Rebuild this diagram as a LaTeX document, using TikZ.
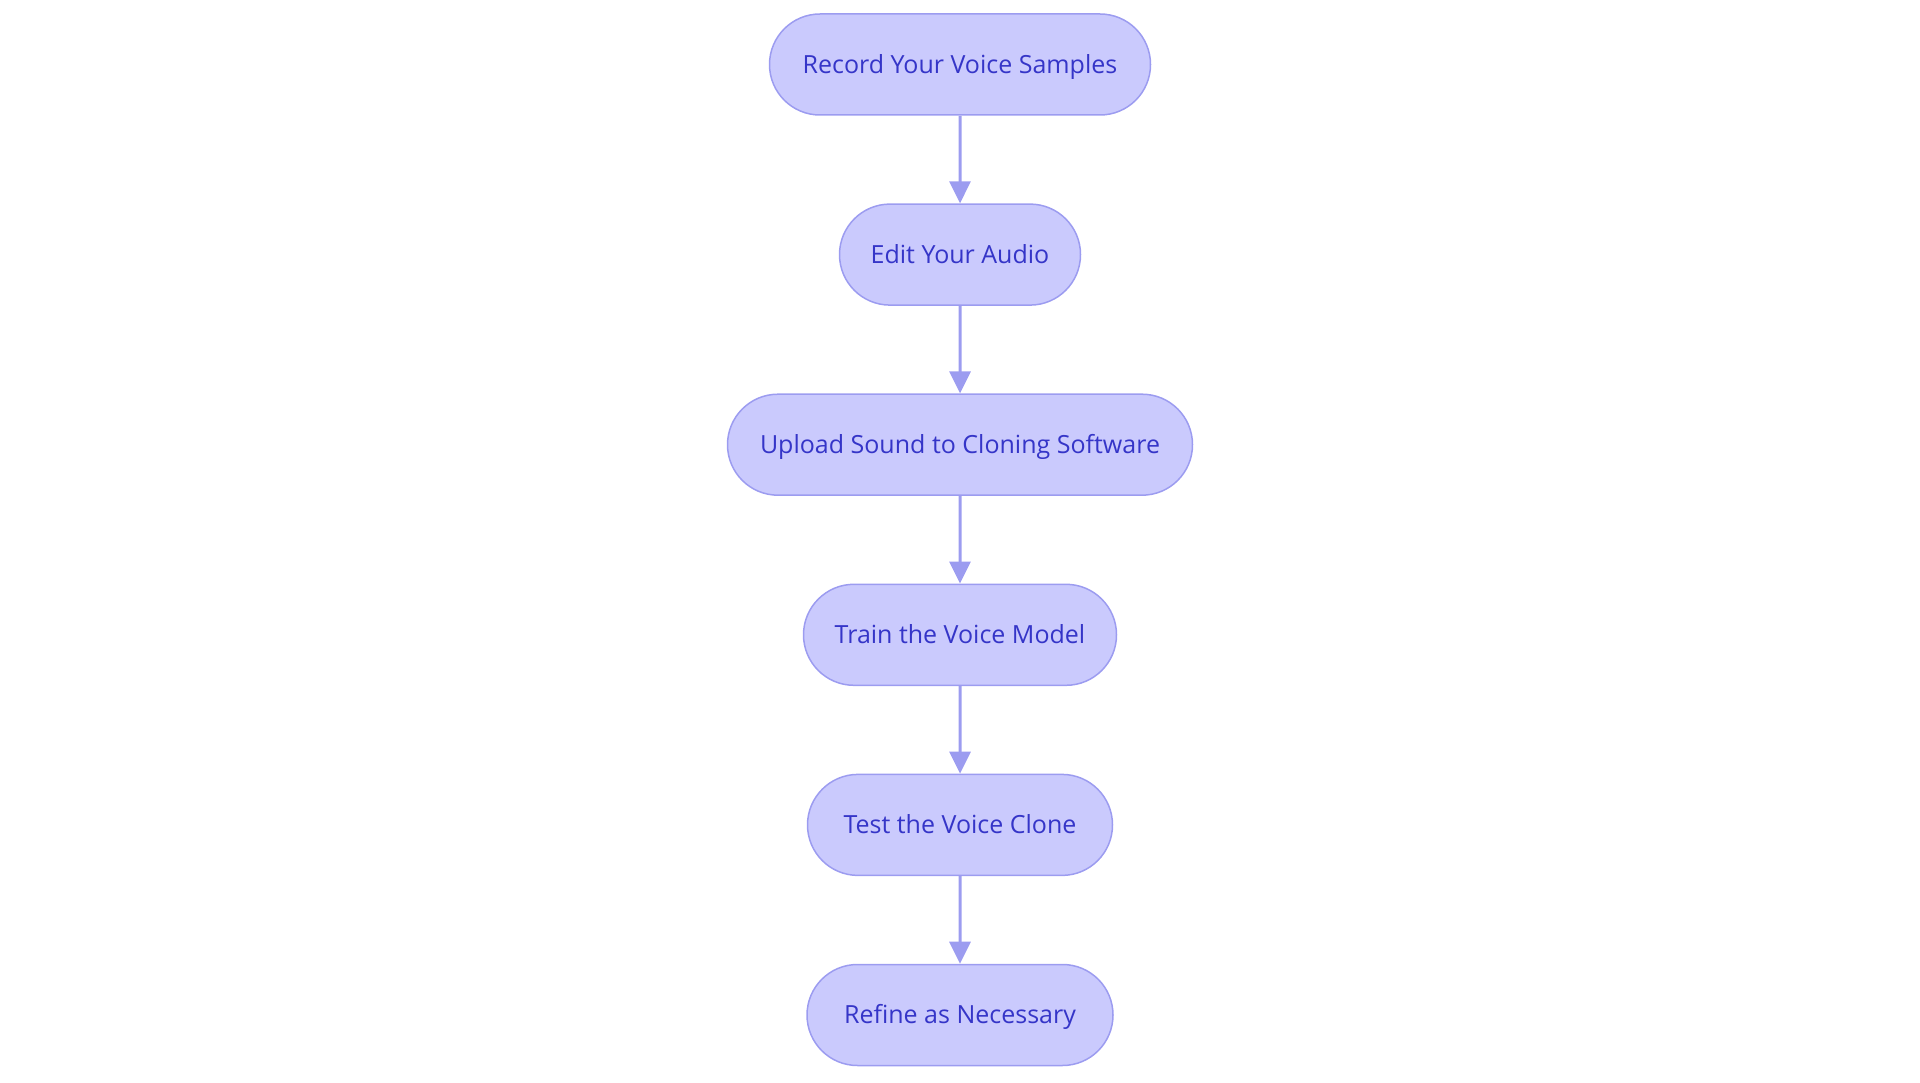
\documentclass[tikz,border=0pt]{standalone}
\usepackage{fontspec}
\setmainfont{Open Sans}
\usetikzlibrary{shapes.misc,positioning,arrows.meta}
\definecolor{stepfill}{HTML}{CACAFD}
\definecolor{stepline}{HTML}{9C9CF0}
\definecolor{steptext}{HTML}{3535C8}
\tikzset{
  stepnode/.style={rounded rectangle, draw=stepline, line width=1.5pt, fill=stepfill,
    text=steptext, font=\fontsize{25}{30}\selectfont, minimum height=101pt, inner sep=0pt,
    text height=18pt, text depth=0.5pt},
  flowarrow/.style={draw=stepline, line width=3pt, -{Triangle[length=22pt,width=21pt]}}
}
\begin{document}
\begin{tikzpicture}
\useasboundingbox (0,0) rectangle (1920pt,-1083pt);
\node[stepnode, minimum width=381pt] (record) at (960pt,-64.5pt) {Record Your Voice Samples};
\node[stepnode, minimum width=241pt] (edit) at (960pt,-254.6pt) {Edit Your Audio};
\node[stepnode, minimum width=465pt] (upload) at (960pt,-444.7pt) {Upload Sound to Cloning Software};
\node[stepnode, minimum width=313pt] (train) at (960pt,-634.8pt) {Train the Voice Model};
\node[stepnode, minimum width=305pt] (test) at (960pt,-824.9pt) {Test the Voice Clone};
\node[stepnode, minimum width=306pt] (refine) at (960pt,-1015pt) {Refine as Necessary};
\draw[flowarrow] (record) -- (edit);
\draw[flowarrow] (edit) -- (upload);
\draw[flowarrow] (upload) -- (train);
\draw[flowarrow] (train) -- (test);
\draw[flowarrow] (test) -- (refine);
\end{tikzpicture}
\end{document}
